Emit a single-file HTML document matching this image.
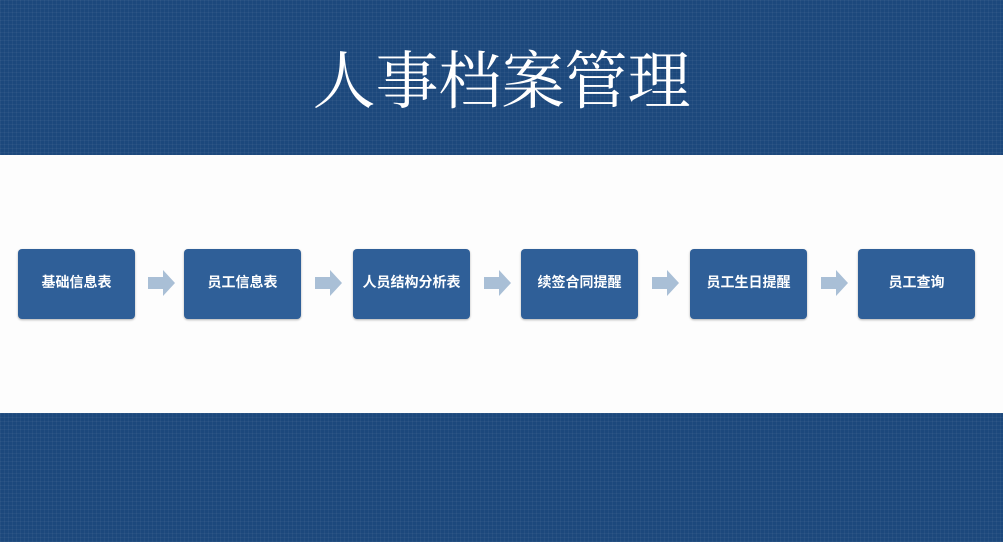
<!DOCTYPE html>
<html><head><meta charset="utf-8"><style>
body{margin:0;width:1003px;height:542px;position:relative;overflow:hidden;background:#fdfdfd;font-family:"Liberation Sans","Noto Sans CJK SC",sans-serif}
.band{position:absolute;left:0;width:1003px;background:#1c487c;background-image:linear-gradient(90deg,rgba(255,255,255,.04) 1px,transparent 1px),linear-gradient(rgba(255,255,255,.04) 1px,transparent 1px);background-size:4px 4px}
.title{position:absolute;left:0;width:1003px;top:42px;text-align:center;color:#fff;font-family:"Liberation Serif","Noto Serif CJK SC",serif;font-size:63px;line-height:80px;letter-spacing:0px}
.box{position:absolute;top:249px;width:117px;height:66px;padding-bottom:4px;background:#2f5f98;border-radius:4px;color:#fff;font-size:14px;font-weight:bold;display:flex;align-items:center;justify-content:center;box-shadow:0 1px 2px rgba(0,0,0,.3)}
.arr{position:absolute;top:270px}
</style></head><body>
<div class="band" style="top:0;height:155px"></div>
<div class="band" style="top:413px;height:129px"></div>
<div class="title">人事档案管理</div>
<div class="box" style="left:18px">基础信息表</div>
<div class="box" style="left:184px">员工信息表</div>
<div class="box" style="left:353px">人员结构分析表</div>
<div class="box" style="left:521px">续签合同提醒</div>
<div class="box" style="left:690px">员工生日提醒</div>
<div class="box" style="left:858px">员工查询</div>
<svg class="arr" style="left:148px" width="28" height="28"><polygon points="0,7 15,7 15,0 27,13 15,26 15,19 0,19" fill="#a9bfd6"/></svg>
<svg class="arr" style="left:315px" width="28" height="28"><polygon points="0,7 15,7 15,0 27,13 15,26 15,19 0,19" fill="#a9bfd6"/></svg>
<svg class="arr" style="left:484px" width="28" height="28"><polygon points="0,7 15,7 15,0 27,13 15,26 15,19 0,19" fill="#a9bfd6"/></svg>
<svg class="arr" style="left:652px" width="28" height="28"><polygon points="0,7 15,7 15,0 27,13 15,26 15,19 0,19" fill="#a9bfd6"/></svg>
<svg class="arr" style="left:821px" width="28" height="28"><polygon points="0,7 15,7 15,0 27,13 15,26 15,19 0,19" fill="#a9bfd6"/></svg>
</body></html>
